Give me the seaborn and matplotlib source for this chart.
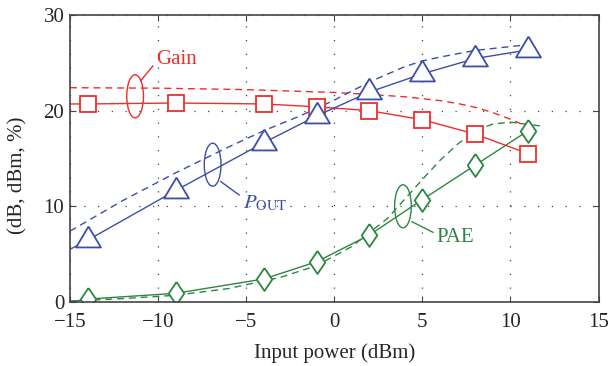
import numpy as np
import pandas as pd
import matplotlib.pyplot as plt
import seaborn as sns
from matplotlib.patches import Ellipse

# measured (solid lines with markers); first point at -15 is the line start only
pin_meas = [-15, -14, -9, -4, -1, 2, 5, 8, 11]
gain_meas = [20.7, 20.7, 20.8, 20.7, 20.4, 20.0, 19.05, 17.55, 15.5]
pout_meas = [5.5, 6.45, 11.65, 16.65, 19.45, 21.95, 23.85, 25.45, 26.35]
pae_meas = [0.0, 0.3, 0.9, 2.4, 4.2, 7.0, 10.7, 14.3, 17.9]

# simulated (dashed lines)
pin_gain_sim = [-15, -10, -5, 0, 2, 4, 6, 7, 8, 9, 10, 11]
gain_sim = [22.4, 22.35, 22.2, 21.9, 21.7, 21.45, 21.05, 20.75, 20.35, 19.8, 19.1, 18.3]
pin_pout_sim = [-15, -12, -9, -6, -4, -2, 0, 2, 4, 5, 6, 8, 10, 11]
pout_sim = [7.4, 10.6, 13.5, 16.2, 17.9, 19.4, 21.1, 23.0, 24.6, 25.2, 25.6, 26.3, 26.7, 26.9]
pin_pae_sim = [-15, -12, -9, -6, -3, -1, 1, 3, 5, 6, 7, 8, 9, 10, 11.7]
pae_sim = [0.1, 0.35, 0.7, 1.4, 2.6, 3.8, 5.8, 8.7, 12.8, 14.8, 16.5, 17.9, 18.6, 18.8, 18.4]

RED = '#ee2e2e'
BLUE = '#3d4fa6'
GREEN = '#2e8643'

sns.set_style('ticks')
plt.rcParams['font.family'] = ['Liberation Serif', 'DejaVu Serif']
plt.rcParams['mathtext.fontset'] = 'stix'
plt.rcParams['font.size'] = 15

# markers centred on their centroid like the original plotting tool
tri = [(0, 2), (-1.79, -1), (1.79, -1), (0, 2)]
dia = [(0, 1), (0.68, 0), (0, -1), (-0.68, 0), (0, 1)]

fig, ax = plt.subplots(figsize=(6.08, 3.66), dpi=100)
fig.subplots_adjust(left=0.115, right=0.9845, bottom=0.175, top=0.959)

mev = list(range(1, len(pin_meas)))

sns.lineplot(x=pin_gain_sim, y=gain_sim, ax=ax, color=RED, lw=1.0,
             linestyle=(0, (5, 3.5)), sort=False)
sns.lineplot(x=pin_pout_sim, y=pout_sim, ax=ax, color=BLUE, lw=1.0,
             linestyle=(0, (5, 3.5)), sort=False)
sns.lineplot(x=pin_pae_sim, y=pae_sim, ax=ax, color=GREEN, lw=1.0,
             linestyle=(0, (5, 3.5)), sort=False)

sns.lineplot(x=pin_meas, y=gain_meas, ax=ax, color=RED, lw=1.0, sort=False,
             marker='s', ms=11, mfc='white', mec=RED, mew=1.3, markevery=mev)
sns.lineplot(x=pin_meas, y=pout_meas, ax=ax, color=BLUE, lw=1.0, sort=False,
             marker=tri, ms=20, mfc='white', mec=BLUE, mew=1.3, markevery=mev)
sns.lineplot(x=pin_meas, y=pae_meas, ax=ax, color=GREEN, lw=1.0, sort=False,
             marker=dia, ms=16.5, mfc='white', mec=GREEN, mew=1.3, markevery=mev)

ax.set_xlim(-15, 15)
ax.set_ylim(0, 30)
ax.set_xticks([-15, -10, -5, 0, 5, 10, 15])
ax.set_yticks([0, 10, 20, 30])
ax.grid(True, linestyle=(0, (1, 10)), color='#444444', lw=0.9)
ax.tick_params(direction='in', length=4, top=True, right=True, labelsize=15,
               color='#444444')
ax.tick_params(axis='x', pad=8)
ax.tick_params(axis='y', pad=4)
for s in ax.spines.values():
    s.set_color('#444444')
    s.set_linewidth(1.2)

ax.set_xlabel('Input power (dBm)', fontsize=15, labelpad=8)
ax.set_ylabel('(dB, dBm, %)', fontsize=15)
ax.yaxis.set_label_coords(-0.081, 0.44)

# annotation ellipses with leader lines
for (cx, cy), col in [((-11.3, 21.5), RED), ((-6.9, 14.35), BLUE), ((3.9, 10.0), GREEN)]:
    ax.add_patch(Ellipse((cx, cy), 0.95, 4.5, fill=False, ec=col, lw=1.0, zorder=5))

ax.annotate('Gain', xy=(-11.0, 23.1), xytext=(-10.1, 25.3), color=RED, fontsize=15,
            ha='left', va='center',
            arrowprops=dict(arrowstyle='-', color=RED, lw=1.0, shrinkA=0, shrinkB=0,
                            relpos=(0, 0.4)))
ax.annotate(r'$P_{\mathrm{OUT}}$', xy=(-6.45, 12.6), xytext=(-5.2, 10.3), color=BLUE,
            fontsize=15, ha='left', va='center',
            arrowprops=dict(arrowstyle='-', color=BLUE, lw=1.0, shrinkA=0, shrinkB=0,
                            relpos=(0, 0.8)))
ax.annotate('PAE', xy=(4.4, 8.4), xytext=(5.8, 6.7), color=GREEN, fontsize=15,
            ha='left', va='center',
            arrowprops=dict(arrowstyle='-', color=GREEN, lw=1.0, shrinkA=0, shrinkB=0,
                            relpos=(0, 0.7)))

fig.savefig('out.png', dpi=100)
